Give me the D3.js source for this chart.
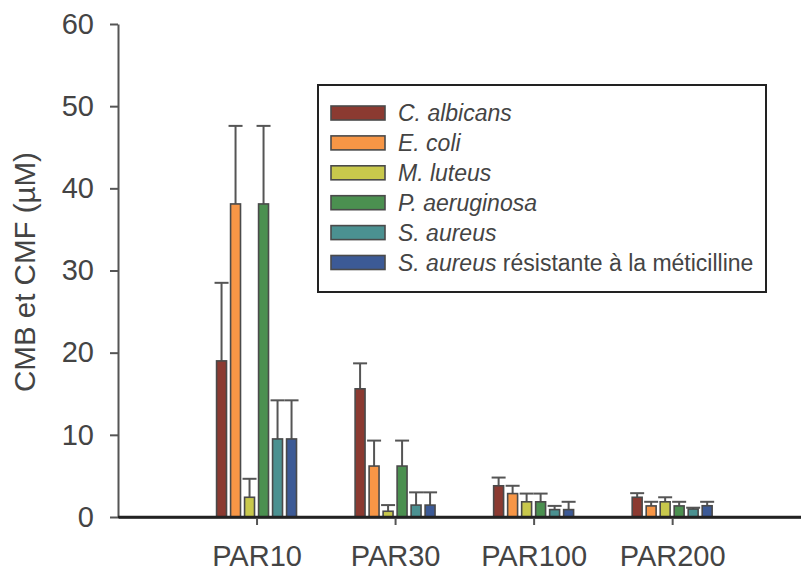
<!DOCTYPE html>
<html>
<head>
<meta charset="utf-8">
<script src="https://cdn.jsdelivr.net/npm/d3@7"></script>
<style>
  html, body { margin: 0; padding: 0; background: #fff; }
  svg { display: block; font-family: Arial, "Liberation Sans", sans-serif; }
</style>
</head>
<body>
<svg id="chart" width="801" height="573"></svg>
<script>
// ---- data ----
const categories = ["PAR10", "PAR30", "PAR100", "PAR200"];
const seriesNames = ["C. albicans", "E. coli", "M. luteus", "P. aeruginosa", "S. aureus", "S. aureus résistante à la méticilline"];
const seriesColors = ["#8B3A31", "#F79646", "#C8C84C", "#4B9050", "#4B9191", "#3C5A96"];
// values per series, in category order
const valCAlbicans   = [19.0, 15.6, 3.8, 2.4];
const valEColi       = [38.1, 6.2, 2.85, 1.35];
const valMLuteus     = [2.4, 0.7, 1.85, 1.85];
const valPAeruginosa = [38.1, 6.2, 1.85, 1.35];
const valSAureus     = [9.5, 1.45, 0.9, 0.97];
const valSARM        = [9.5, 1.45, 0.9, 1.37];
// upper error (absolute top of whisker)
const errCAlbicans   = [28.5, 18.7, 4.8, 2.9];
const errEColi       = [47.6, 9.3, 3.8, 1.85];
const errMLuteus     = [4.65, 1.45, 2.85, 2.4];
const errPAeruginosa = [47.6, 9.3, 2.85, 1.85];
const errSAureus     = [14.2, 3.0, 1.35, 1.13];
const errSARM        = [14.2, 3.0, 1.85, 1.85];
const yTicks = [0, 10, 20, 30, 40, 50, 60];

const values = [valCAlbicans, valEColi, valMLuteus, valPAeruginosa, valSAureus, valSARM];
const errors = [errCAlbicans, errEColi, errMLuteus, errPAeruginosa, errSAureus, errSARM];

const svg = d3.select("#chart");

const x = d3.scaleLinear().domain([0, 4.93]).range([118, 801]);
const y = d3.scaleLinear().domain([0, 60]).range([517, 24]);
const inner = d3.scaleBand().domain(d3.range(seriesNames.length)).range([-42, 42]).paddingInner(0.29).paddingOuter(0.145);

// y axis
const yAxis = svg.append("g").attr("transform", "translate(118,0)")
  .call(d3.axisLeft(y).tickValues(yTicks).tickSize(8).tickPadding(16).tickSizeOuter(0));
yAxis.select(".domain").attr("stroke", "#555").attr("stroke-width", 2);
yAxis.selectAll(".tick line").attr("stroke", "#555").attr("stroke-width", 2);
yAxis.selectAll(".tick text").attr("fill", "#444").style("font-size", "29px");

// x axis
const xAxis = svg.append("g").attr("transform", "translate(0,517)")
  .call(d3.axisBottom(x).tickValues([1, 2, 3, 4]).tickFormat((d) => categories[d - 1]).tickSize(8).tickPadding(20).tickSizeOuter(0));
xAxis.select(".domain").attr("stroke", "#222").attr("stroke-width", 2.5);
xAxis.selectAll(".tick line").attr("stroke", "#555").attr("stroke-width", 2);
xAxis.selectAll(".tick text").attr("fill", "#444").style("font-size", "29px");

// bars
const barData = [];
values.forEach((vals, s) => vals.forEach((v, c) => barData.push({ s, c, v, e: errors[s][c] })));

const g = svg.append("g");
// error bars (drawn behind bars)
g.selectAll("line.err").data(barData).enter().append("line")
  .attr("x1", (d) => x(d.c + 1) + inner(d.s) + inner.bandwidth() / 2)
  .attr("x2", (d) => x(d.c + 1) + inner(d.s) + inner.bandwidth() / 2)
  .attr("y1", (d) => y(d.v))
  .attr("y2", (d) => y(d.e))
  .attr("stroke", "#555").attr("stroke-width", 2);
g.selectAll("line.cap").data(barData).enter().append("line")
  .attr("x1", (d) => x(d.c + 1) + inner(d.s) + inner.bandwidth() / 2 - 7)
  .attr("x2", (d) => x(d.c + 1) + inner(d.s) + inner.bandwidth() / 2 + 7)
  .attr("y1", (d) => y(d.e))
  .attr("y2", (d) => y(d.e))
  .attr("stroke", "#555").attr("stroke-width", 2);
g.selectAll("rect.bar").data(barData).enter().append("rect")
  .attr("x", (d) => x(d.c + 1) + inner(d.s))
  .attr("y", (d) => y(d.v))
  .attr("width", inner.bandwidth())
  .attr("height", (d) => y(0) - y(d.v))
  .attr("fill", (d) => seriesColors[d.s])
  .attr("stroke", "#4a4a4a").attr("stroke-width", 1.6);

// redraw x domain on top
svg.append("line").attr("x1", 118).attr("x2", 801).attr("y1", y(0)).attr("y2", y(0))
  .attr("stroke", "#222").attr("stroke-width", 2.5);

// y label
svg.append("text")
  .attr("transform", "translate(35,272) rotate(-90)")
  .attr("text-anchor", "middle")
  .attr("fill", "#444")
  .style("font-size", "29.5px")
  .text("CMB et CMF (µM)");

// legend
const lg = svg.append("g");
lg.append("rect").attr("x", 318).attr("y", 85).attr("width", 448).attr("height", 207)
  .attr("fill", "#fff").attr("stroke", "#222").attr("stroke-width", 2);
const rows = lg.selectAll("g.row").data(seriesNames).enter().append("g")
  .attr("transform", (d, i) => `translate(0,${113 + i * 29.9})`);
rows.append("rect").attr("x", 331).attr("y", -7).attr("width", 54).attr("height", 14)
  .attr("fill", (d, i) => seriesColors[i]).attr("stroke", "#4a4a4a").attr("stroke-width", 1.6);
const txt = rows.append("text").attr("x", 398).attr("y", 8).attr("fill", "#444").style("font-size", "23px");
txt.each(function (d) {
  const t = d3.select(this);
  if (d.startsWith("S. aureus ")) {
    t.append("tspan").style("font-style", "italic").text("S. aureus");
    t.append("tspan").text(d.slice("S. aureus".length));
  } else {
    t.append("tspan").style("font-style", "italic").text(d);
  }
});
</script>
</body>
</html>
